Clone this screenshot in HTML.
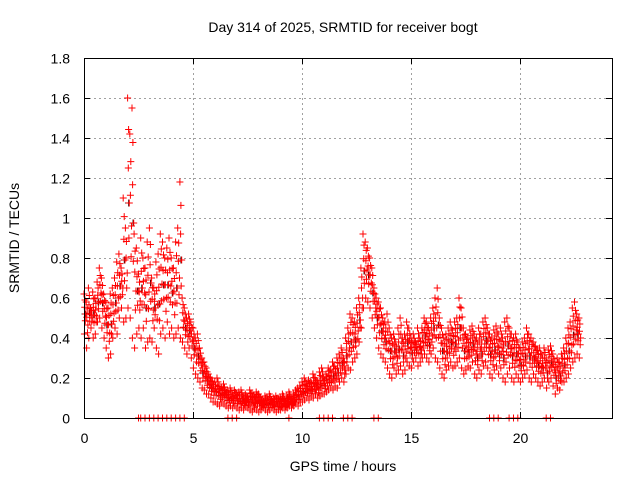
<!DOCTYPE html>
<html><head><meta charset="utf-8"><style>
body{margin:0;background:#fff}
svg{display:block;font-family:"Liberation Sans",sans-serif}
</style></head><body>
<svg id="chart" width="640" height="480" viewBox="0 0 640 480">
<rect width="640" height="480" fill="#fff"/>
<g id="grid"></g>
<g id="marks"></g>
<rect x="84.5" y="58.5" width="528" height="360" fill="none" stroke="#000"/>
<g id="ticks" font-size="14"></g>
<text x="343" y="32" font-size="14" text-anchor="middle">Day 314 of 2025, SRMTID for receiver bogt</text>
<text x="343" y="471" font-size="14" text-anchor="middle">GPS time / hours</text>
<text transform="translate(19,238) rotate(-90)" font-size="14" text-anchor="middle">SRMTID / TECUs</text>
</svg>
<script>
const xTicks=[0,5,10,15,20];
const yTicks=[0,0.2,0.4,0.6,0.8,1,1.2,1.4,1.6,1.8];
const yTickLabels=["0","0.2","0.4","0.6","0.8","1","1.2","1.4","1.6","1.8"];
const step=0.1;
const hiVals=[.62,.58,.65,.55,.63,.60,.68,.75,.70,.62,
.58,.55,.62,.65,.70,.78,.82,.75,1.1,.95,
1.6,1.42,1.55,.92,.85,.72,.90,.80,.75,.88,
.95,.70,.65,.78,.82,.92,.88,.80,.85,.90,
.80,.75,.88,.95,1.18,.60,.55,.50,.52,.48,
.45,.40,.42,.35,.30,.28,.25,.22,.20,.18,
.18,.20,.16,.15,.17,.14,.13,.15,.12,.14,
.12,.13,.14,.11,.12,.10,.14,.12,.11,.13,
.12,.10,.09,.11,.10,.12,.09,.10,.11,.10,
.10,.12,.09,.11,.13,.10,.12,.14,.15,.16,
.18,.20,.17,.19,.18,.22,.20,.18,.23,.25,
.20,.22,.25,.24,.28,.26,.30,.32,.35,.30,
.40,.45,.52,.50,.48,.55,.60,.75,.92,.88,
.85,.80,.75,.65,.60,.58,.55,.50,.48,.52,
.45,.40,.42,.38,.45,.50,.40,.42,.48,.45,
.40,.42,.38,.45,.40,.45,.50,.48,.45,.50,
.55,.60,.65,.50,.45,.40,.42,.45,.48,.44,
.48,.50,.60,.55,.45,.42,.40,.44,.46,.42,
.40,.45,.42,.48,.50,.45,.42,.40,.44,.46,
.42,.45,.40,.48,.50,.45,.42,.40,.42,.38,
.35,.38,.40,.45,.42,.40,.38,.36,.34,.35,
.32,.35,.30,.34,.36,.32,.28,.30,.28,.32,
.35,.40,.45,.48,.55,.58,.52,.50];
const loVals=[.42,.35,.40,.45,.40,.42,.48,.50,.45,.40,
.35,.30,.32,.40,.45,.42,.50,.55,.48,.50,
.55,.50,.40,.35,.42,.45,.40,.45,.35,.38,
.40,.38,.45,.35,.32,.42,.45,.40,.48,.42,
.45,.40,.42,.45,.40,.38,.35,.32,.35,.30,
.25,.22,.20,.18,.15,.14,.12,.12,.10,.08,
.08,.07,.06,.08,.07,.06,.05,.06,.05,.06,
.05,.04,.05,.04,.06,.05,.04,.03,.05,.04,
.03,.04,.05,.04,.03,.04,.05,.04,.03,.04,
.04,.05,.04,.05,.06,.05,.06,.07,.06,.08,
.08,.09,.10,.09,.11,.10,.12,.10,.11,.12,
.12,.13,.14,.15,.14,.16,.15,.18,.20,.18,
.22,.25,.24,.28,.30,.32,.38,.45,.55,.60,
.58,.55,.50,.45,.40,.35,.32,.30,.28,.25,
.22,.20,.25,.22,.24,.26,.22,.24,.28,.26,
.25,.28,.30,.26,.28,.30,.32,.30,.28,.32,
.35,.30,.28,.25,.22,.20,.24,.26,.28,.25,
.26,.28,.30,.25,.22,.24,.26,.25,.28,.22,
.20,.24,.22,.26,.28,.25,.22,.20,.24,.26,
.22,.25,.20,.18,.22,.25,.20,.18,.22,.20,
.18,.20,.22,.24,.20,.18,.22,.20,.18,.16,
.18,.20,.15,.18,.20,.16,.12,.15,.14,.18,
.18,.20,.22,.25,.28,.30,.32,.30];
const zeroTimes=[2.5,2.6,2.8,3.0,3.2,3.4,3.6,3.8,4.0,4.2,4.4,4.6,6.6,6.8,7.0,9.4,10.8,11.0,11.2,11.4,11.9,12.1,12.3,13.3,13.5,18.6,18.8,19.0,19.5,19.7,19.9,21.2,21.4];

const X0=84,X1=612,Y0=418,Y1=58,XMAX=528/21.8,YMAX=1.8;
const xs=v=>X0+v/XMAX*(X1-X0);
const ys=v=>Y0-v/YMAX*(Y0-Y1);
const NS="http://www.w3.org/2000/svg";
const grid=document.getElementById('grid'),ticks=document.getElementById('ticks'),marks=document.getElementById('marks');
function mk(tag,attrs,parent){const e=document.createElementNS(NS,tag);for(const k in attrs)e.setAttribute(k,attrs[k]);parent.appendChild(e);return e;}
xTicks.forEach(t=>{
  const x=Math.round(xs(t))+0.5;
  if(t>0){const g=mk('line',{x1:x,x2:x,y1:Y1,y2:Y0,stroke:'#a0a0a0','stroke-dasharray':'2,3'},grid);
  
  }
  const tk=mk('path',{d:`M${x} ${Y0}v-6M${x} ${Y1}v6`,stroke:'#000'},ticks);
  
  
  const l=mk('text',{x:x,y:443,'text-anchor':'middle'},ticks);l.textContent=String(t);
  
  
});
yTicks.forEach((t,i)=>{
  const y=Math.round(ys(t))+0.5;
  if(t>0&&t<YMAX){const g=mk('line',{x1:X0,x2:X1,y1:y,y2:y,stroke:'#a0a0a0','stroke-dasharray':'2,3'},grid);
  
  }
  const tk=mk('path',{d:`M${X0} ${y}h6M${X1} ${y}h-6`,stroke:'#000'},ticks);
  
  
  const l=mk('text',{x:70,y:y+5,'text-anchor':'end'},ticks);l.textContent=yTickLabels[i];
  
  
});
let red='',black='';
const plus=(t,v)=>{const x=xs(t),y=ys(v);return `M${(x-3.5).toFixed(1)} ${y.toFixed(1)}h7M${x.toFixed(1)} ${(y-3.5).toFixed(1)}v7`;};
hiVals.forEach((h,i)=>{
  const t=i*step,l=loVals[i];
  red+=plus(t,h)+plus(t+0.03,(2*h+l)/3)+plus(t+0.06,(h+2*l)/3)+plus(t+0.02,l)
      +plus(t+0.08,(h+l)/2)+plus(t+0.045,0.85*h+0.15*l);
  if(i%2===0)black+=plus(t+0.05,(h+l)/2);
});
zeroTimes.forEach(t=>{red+=plus(t,0);});
const pb=mk('path',{d:black,stroke:'#000','stroke-width':1,fill:'none'},marks);


const pr=mk('path',{d:red,stroke:'#ff0000','stroke-width':1,fill:'none'},marks);


</script>
</body></html>
